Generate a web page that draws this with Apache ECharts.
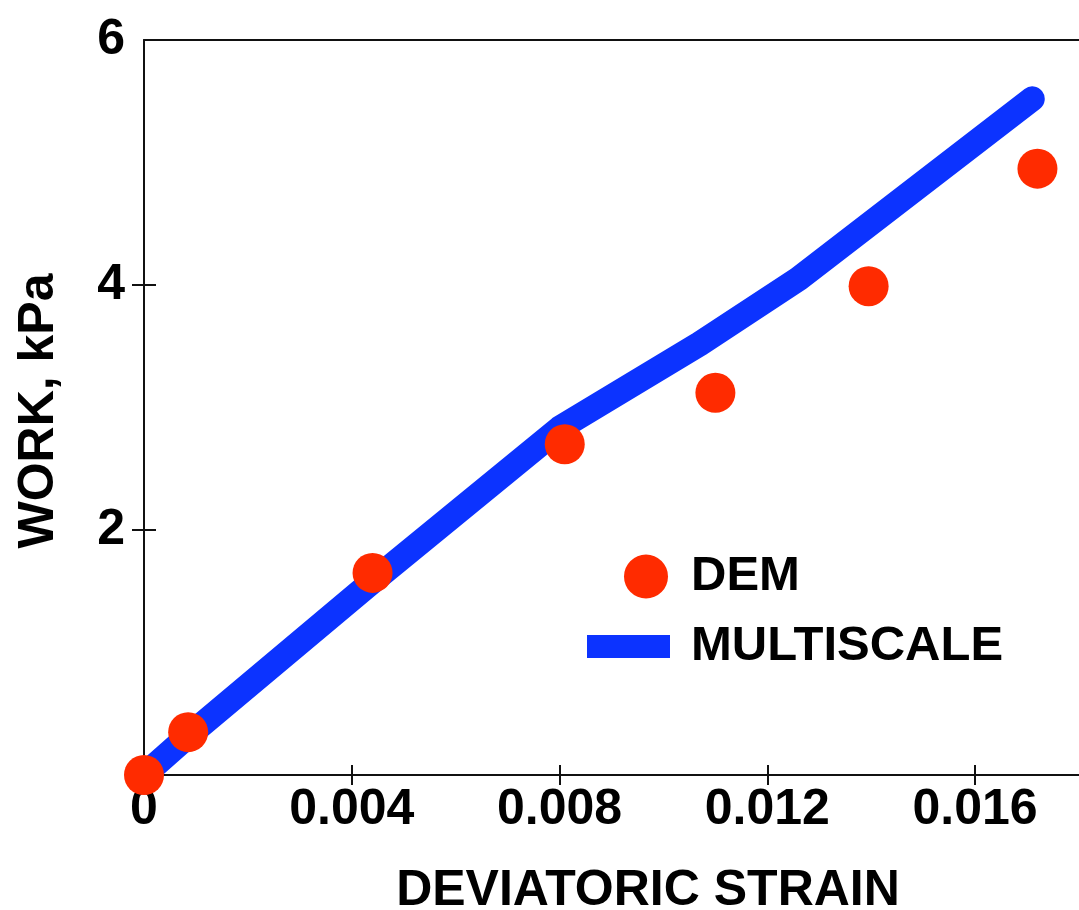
<!DOCTYPE html>
<html>
<head>
<meta charset="utf-8">
<script src="https://cdn.jsdelivr.net/npm/echarts@6/dist/echarts.min.js"></script>
<style>
  html, body { margin: 0; padding: 0; background: #ffffff; }
  #chart { width: 1079px; height: 910px; }
</style>
</head>
<body>
<div id="chart"></div>
<script>
// Work vs deviatoric strain: DEM results (dots) and multiscale model (line)
const demStrain = [0, 0.00085, 0.0044, 0.0081, 0.0110, 0.01395, 0.0172];
const demWork = [0, 0.35, 1.65, 2.70, 3.12, 3.99, 4.95];

const multiscaleStrain = [0, 0.0008, 0.0044, 0.0080, 0.0107, 0.0126, 0.0171];
const multiscaleWork = [0, 0.30, 1.58, 2.83, 3.52, 4.05, 5.52];

const xTickValues = [0, 0.004, 0.008, 0.012, 0.016];
const xTickLabels = ['0', '0.004', '0.008', '0.012', '0.016'];
const yTickValues = [2, 4, 6];
const yTickLabels = ['2', '4', '6'];

const FONT = '"Liberation Sans", Arial, Helvetica, sans-serif';
const RED = '#ff2b00';
const BLUE = '#0c33ff';
const AXIS = '#111111';

const demData = demStrain.map((x, i) => [x, demWork[i]]);
const multiscaleData = multiscaleStrain.map((x, i) => [x, multiscaleWork[i]]);

const labelStyle = { color: '#000', fontFamily: FONT, fontWeight: 'bold', fontSize: 50 };

const chart = echarts.init(document.getElementById('chart'), null, { renderer: 'canvas' });

chart.setOption({
  backgroundColor: '#ffffff',
  animation: false,
  grid: { left: 144, right: 0, top: 40, bottom: 135, containLabel: false },
  xAxis: [
    {
      type: 'value', position: 'bottom', min: 0, max: 0.018,
      axisLine: { show: true, lineStyle: { color: AXIS, width: 2 } },
      axisTick: { show: true, inside: false, length: 10, customValues: xTickValues.slice(1), lineStyle: { color: AXIS, width: 2 } },
      axisLabel: {
        show: true, margin: 10, customValues: xTickValues,
        formatter: v => xTickLabels[xTickValues.findIndex(t => Math.abs(t - v) < 1e-9)] ?? '',
        ...labelStyle
      },
      splitLine: { show: false }
    },
    {
      type: 'value', position: 'bottom', min: 0, max: 0.018,
      axisLine: { show: false },
      axisTick: { show: true, inside: true, length: 10, customValues: xTickValues.slice(1), lineStyle: { color: AXIS, width: 2 } },
      axisLabel: { show: false },
      splitLine: { show: false }
    },
    {
      type: 'value', position: 'top', min: 0, max: 0.018,
      axisLine: { show: true, lineStyle: { color: AXIS, width: 2 } },
      axisTick: { show: false },
      axisLabel: { show: false },
      splitLine: { show: false }
    }
  ],
  yAxis: [
    {
      type: 'value', position: 'left', min: 0, max: 6,
      axisLine: { show: true, lineStyle: { color: AXIS, width: 2 } },
      axisTick: { show: true, inside: false, length: 12, customValues: [2, 4], lineStyle: { color: AXIS, width: 2 } },
      axisLabel: {
        show: true, margin: 19, customValues: yTickValues,
        formatter: v => yTickLabels[yTickValues.findIndex(t => Math.abs(t - v) < 1e-9)] ?? '',
        ...labelStyle
      },
      splitLine: { show: false }
    },
    {
      type: 'value', position: 'left', min: 0, max: 6,
      axisLine: { show: false },
      axisTick: { show: true, inside: true, length: 12, customValues: [2, 4], lineStyle: { color: AXIS, width: 2 } },
      axisLabel: { show: false },
      splitLine: { show: false }
    }
  ],
  legend: [
    {
      data: [{ name: 'DEM', icon: 'circle' }],
      left: 619, top: 547,
      itemWidth: 44, itemHeight: 44, itemGap: 0,
      textStyle: { ...labelStyle, fontSize: 49, padding: [0, 0, 0, 18] },
      selectedMode: false
    },
    {
      data: [{ name: 'MULTISCALE', icon: 'rect' }],
      left: 582, top: 617,
      itemWidth: 83, itemHeight: 23, itemGap: 0,
      textStyle: { ...labelStyle, fontSize: 49, padding: [0, 0, 0, 16] },
      selectedMode: false
    }
  ],
  graphic: [
    {
      type: 'text', x: 648, y: 891,
      style: { text: 'DEVIATORIC STRAIN', font: 'bold 50px ' + FONT, fill: '#000', align: 'center', verticalAlign: 'middle' }
    },
    {
      type: 'text', x: 39, y: 411, rotation: Math.PI / 2,
      style: { text: 'WORK, kPa', font: 'bold 50px ' + FONT, fill: '#000', align: 'center', verticalAlign: 'middle' }
    }
  ],
  series: [
    {
      name: 'MULTISCALE', type: 'line', xAxisIndex: 0, yAxisIndex: 0,
      data: multiscaleData, showSymbol: false, symbol: 'none', clip: false,
      color: BLUE,
      itemStyle: { color: BLUE },
      lineStyle: { color: BLUE, width: 25, cap: 'round', join: 'round' },
      z: 2
    },
    {
      name: 'DEM', type: 'scatter', xAxisIndex: 0, yAxisIndex: 0,
      data: demData, symbol: 'circle', symbolSize: 40, clip: false,
      itemStyle: { color: RED, opacity: 1 },
      z: 3
    }
  ]
});
</script>
</body>
</html>
